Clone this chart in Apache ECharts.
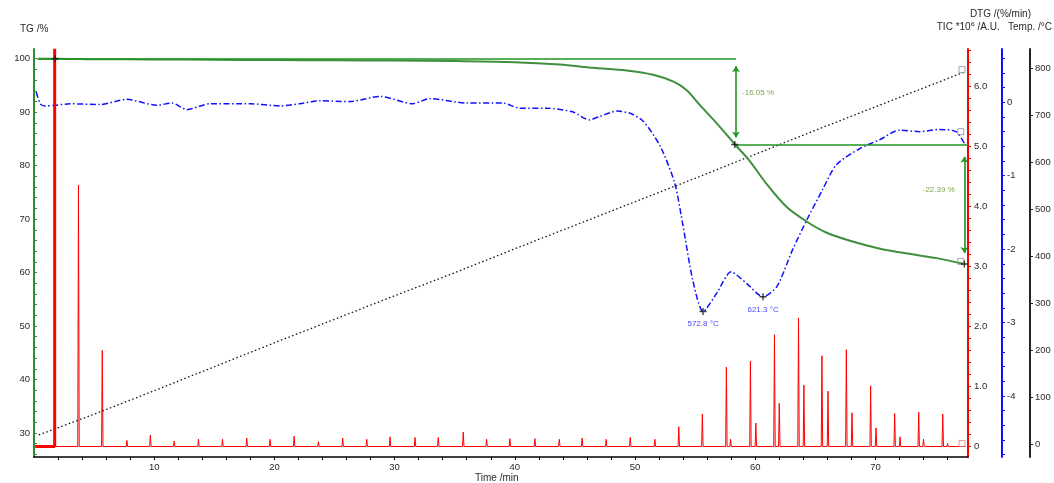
<!DOCTYPE html>
<html>
<head>
<meta charset="utf-8">
<script src="https://cdn.jsdelivr.net/npm/echarts@6/dist/echarts.min.js"></script>
<style>
html,body{margin:0;padding:0;background:#fff;}
#chart{width:1054px;height:483px;}
</style>
</head>
<body>
<div id="chart"></div>
<script>
// ---------- data ----------
// TG curve (mass %)
const tgTime  = [0.3, 2, 5, 10, 15, 20, 25, 30, 35, 40, 43.75, 46.5, 49.3, 51.5, 53.2, 54.3, 55.4, 56.8, 58.3, 59.5, 60.9, 62.6, 64.3, 65.9, 68.1, 70.3, 72.8, 75.1, 77.4];
const tgValue = [100.0, 100.0, 99.9, 99.85, 99.8, 99.75, 99.7, 99.65, 99.55, 99.35, 98.9, 98.3, 97.8, 97.0, 95.7, 94.1, 91.3, 87.9, 84.0, 81.0, 76.7, 72.3, 69.5, 67.5, 65.8, 64.5, 63.5, 62.7, 61.6];

// DTG curve (%/min)
const dtgTime  = [0.19, 0.52, 0.94, 1.77, 3.0, 5.5, 7.7, 10.2, 11.5, 12.7, 14.65, 18.0, 20.5, 22.1, 23.8, 26.3, 28.8, 31.5, 32.9, 36.0, 39.0, 40.4, 42.6, 44.8, 46.2, 47.1, 48.5, 49.6, 50.7, 52.1, 53.3, 54.0, 54.8, 55.66, 56.8, 58.0, 59.3, 60.65, 61.8, 63.1, 64.3, 65.6, 66.75, 68.7, 70.35, 72.0, 73.7, 75.3, 76.7, 77.4];
const dtgValue = [0.14, -0.02, -0.05, -0.04, -0.02, -0.03, 0.04, -0.04, -0.01, -0.10, -0.02, -0.02, -0.05, -0.02, 0.02, 0.01, 0.08, -0.02, 0.05, -0.01, -0.01, -0.08, -0.08, -0.13, -0.24, -0.19, -0.12, -0.15, -0.26, -0.60, -1.10, -1.69, -2.42, -2.85, -2.60, -2.31, -2.47, -2.65, -2.51, -2.01, -1.60, -1.19, -0.85, -0.63, -0.51, -0.38, -0.40, -0.37, -0.40, -0.56];

// Temperature (°C)
const tempTime  = [0.4, 5, 10, 15, 20, 25, 30, 35, 40, 45, 50, 55, 60, 65, 70, 75, 77.3];
const tempValue = [20, 64, 114, 165, 216, 266, 316, 365, 416, 466, 516, 566, 617, 668, 718, 768, 791];

// TIC peaks (*10^6 A.U.)
const ticPeakTime   = [3.70, 5.68, 7.73, 9.68, 11.66, 13.68, 15.68, 17.70, 19.64, 21.64, 23.66, 25.68, 27.68, 29.62, 31.70, 33.63, 35.71, 37.65, 39.59, 41.67, 43.70, 45.60, 47.60, 49.60, 51.65, 53.64, 55.60, 57.60, 57.95, 59.60, 60.05, 61.60, 62.00, 63.60, 64.05, 65.55, 66.05, 67.58, 68.05, 69.60, 70.05, 71.60, 72.05, 73.60, 74.00, 75.60, 76.00];
const ticPeakHeight = [4.35, 1.60, 0.10, 0.19, 0.09, 0.12, 0.12, 0.14, 0.12, 0.17, 0.08, 0.14, 0.12, 0.16, 0.15, 0.15, 0.24, 0.12, 0.13, 0.13, 0.12, 0.14, 0.12, 0.15, 0.12, 0.33, 0.54, 1.32, 0.12, 1.42, 0.39, 1.86, 0.72, 2.14, 1.02, 1.51, 0.92, 1.61, 0.56, 1.01, 0.31, 0.55, 0.16, 0.57, 0.12, 0.54, 0.05];
const ticStartTime = 0.1, ticEndTime = 77.5;
const ticBigPeakTime = 1.72, ticBigPeakHeight = 6.62;

// Annotations
const tgStepLevels = [100, 83.95, 61.56];
const tgStepTimes  = [58.4, 77.4];
const tgStepLabels = ['-16.05 %', '-22.39 %'];
const tgMarkTime  = [1.77, 58.3, 77.4];
const tgMarkValue = [100, 83.95, 61.6];
const dtgPeakTime  = [55.66, 60.65];
const dtgPeakValue = [-2.85, -2.65];
const dtgPeakLabel = ['572.8 °C', '621.3 °C'];

// Axis ticks / labels
const timeLabels = [10, 20, 30, 40, 50, 60, 70];
const timeTicks  = Array.from({length: 38}, (_, i) => (i + 1) * 2);
const tgLabels   = [30, 40, 50, 60, 70, 80, 90, 100];
const tgTicks    = Array.from({length: 38}, (_, i) => 26 + i * 2);
const ticLabels  = [0, 1, 2, 3, 4, 5, 6];
const ticTicks   = Array.from({length: 34}, (_, i) => +(i * 0.2).toFixed(1));
const dtgLabels  = [0, -1, -2, -3, -4];
const dtgTicks   = Array.from({length: 28}, (_, i) => +(0.6 - i * 0.2).toFixed(1));
const tempLabels = [0, 100, 200, 300, 400, 500, 600, 700, 800];

// ---------- build series data ----------
const zip = (a, b) => a.map((v, i) => [v, b[i]]);
const ticData = [[ticStartTime, 0]];
ticPeakTime.forEach((t, i) => {
  ticData.push([t - 0.06, 0], [t, ticPeakHeight[i]], [t + 0.06, 0]);
});
ticData.push([ticEndTime, 0]);

const GREEN = '#2f8f2f', RED = '#ff0000', BLUE = '#1010ff';
const FF = 'Liberation Sans, Arial, sans-serif';
const FONT = {fontFamily: FF, fontSize: 9.5, color: '#2a2a2a'};
const TITLE_FONT = '10px ' + FF;
const plusPath = 'path://M4,0h2v4h4v2h-4v4h-2v-4h-4v-2h4z';

function yAxisBase(o) {
  return Object.assign({type: 'value', splitLine: {show: false}, scale: false}, o);
}
const boxStyle = c => ({color: 'rgba(0,0,0,0)', borderColor: c, borderWidth: 1});

const option = {
  backgroundColor: '#fff',
  animation: false,
  grid: {left: 34, right: 86, top: 49, bottom: 26, containLabel: false},
  xAxis: {
    type: 'value', min: 0, max: 77.7,
    axisLine: {show: true, onZero: false, lineStyle: {color: '#000', width: 1.5}},
    axisTick: {show: true, length: 3, lineStyle: {color: '#000'}, customValues: timeTicks},
    axisLabel: Object.assign({margin: 5, customValues: timeLabels}, FONT),
    splitLine: {show: false}
  },
  yAxis: [
    yAxisBase({ // 0 TG
      position: 'left', min: 25.51, max: 101.81,
      axisLine: {show: true, onZero: false, lineStyle: {color: GREEN, width: 2}},
      axisTick: {show: true, inside: true, length: 3, lineStyle: {color: GREEN}, customValues: tgTicks},
      axisLabel: Object.assign({margin: 4, customValues: tgLabels}, FONT)
    }),
    yAxisBase({ // 1 TIC
      position: 'right', offset: 0, min: -0.175, max: 6.616,
      axisLine: {show: true, onZero: false, lineStyle: {color: RED, width: 2}},
      axisTick: {show: true, length: 3, lineStyle: {color: RED}, customValues: ticTicks},
      axisLabel: Object.assign({margin: 6, customValues: ticLabels,
        formatter: v => v === 0 ? '0' : v.toFixed(1)}, FONT)
    }),
    yAxisBase({ // 2 DTG
      position: 'right', offset: 34, min: -4.832, max: 0.726,
      axisLine: {show: true, onZero: false, lineStyle: {color: BLUE, width: 2}},
      axisTick: {show: true, length: 3, lineStyle: {color: BLUE}, customValues: dtgTicks},
      axisLabel: Object.assign({margin: 5, customValues: dtgLabels}, FONT)
    }),
    yAxisBase({ // 3 Temp
      position: 'right', offset: 62, min: -27, max: 841,
      axisLine: {show: true, onZero: false, lineStyle: {color: '#222', width: 2}},
      axisTick: {show: true, length: 3, lineStyle: {color: '#222'}, customValues: tempLabels},
      axisLabel: Object.assign({margin: 5, customValues: tempLabels}, FONT)
    })
  ],
  graphic: [
    {type: 'text', left: 20, top: 24, style: {text: 'TG /%', font: TITLE_FONT, fill: '#2a2a2a'}},
    {type: 'text', right: 23, top: 9, style: {text: 'DTG /(%/min)', font: TITLE_FONT, fill: '#2a2a2a'}},
    {type: 'text', right: 2, top: 22, style: {
      text: '{a|TIC *10}{s|\u2076}{a| /A.U.   Temp. /°C}',
      rich: {
        a: {fontFamily: FF, fontSize: 10, fill: '#2a2a2a'},
        s: {fontFamily: 'DejaVu Sans', fontSize: 10, fill: '#2a2a2a'}
      }
    }},
    {type: 'text', left: 475, top: 473, style: {text: 'Time /min', font: TITLE_FONT, fill: '#2a2a2a'}}
  ],
  series: [
    { // TIC
      name: 'TIC', type: 'line', yAxisIndex: 1, data: ticData, symbol: 'none',
      lineStyle: {color: RED, width: 1}, z: 2
    },
    { // TIC saturated first peak
      name: 'TIC big', type: 'line', yAxisIndex: 1,
      data: [[ticStartTime, 0], [ticBigPeakTime, 0], [ticBigPeakTime, ticBigPeakHeight]],
      symbol: 'none', lineStyle: {color: RED, width: 3}, z: 4
    },
    { // Temperature
      name: 'Temp', type: 'line', yAxisIndex: 3, data: zip(tempTime, tempValue), symbol: 'none',
      lineStyle: {color: '#111', width: 1.3, type: [1.5, 2.5]}, z: 3
    },
    { // DTG
      name: 'DTG', type: 'line', yAxisIndex: 2, data: zip(dtgTime, dtgValue), symbol: 'none', smooth: 0.25,
      lineStyle: {color: BLUE, width: 1.5, type: [6, 2.5, 1.5, 2.5]}, z: 3
    },
    { // TG
      name: 'TG', type: 'line', yAxisIndex: 0, data: zip(tgTime, tgValue), symbol: 'none', smooth: 0.3,
      lineStyle: {color: '#3f8f3f', width: 2}, z: 3,
      markLine: {
        silent: true, animation: false, symbolSize: 6,
        label: {show: false},
        lineStyle: {color: '#1f941f', width: 1.6, type: 'solid'},
        data: [
          [{coord: [tgTime[0], tgStepLevels[0]], symbol: 'none'}, {coord: [tgStepTimes[0], tgStepLevels[0]], symbol: 'none'}],
          [{coord: [tgStepTimes[0], tgStepLevels[0] - 1.4], symbol: 'arrow'}, {coord: [tgStepTimes[0], tgStepLevels[1] + 1.3], symbol: 'arrow'}],
          [{coord: [tgMarkTime[1], tgStepLevels[1]], symbol: 'none'}, {coord: [77.7, tgStepLevels[1]], symbol: 'none'}],
          [{coord: [tgStepTimes[1], tgStepLevels[1] - 2.3], symbol: 'arrow'}, {coord: [tgStepTimes[1], tgStepLevels[2] + 2.1], symbol: 'arrow'}]
        ]
      }
    },
    { // TG step labels
      type: 'scatter', yAxisIndex: 0, symbolSize: 0, silent: true, z: 6,
      data: [
        {value: [58.9, 93.64], label: {show: true, position: 'right', distance: 0, formatter: tgStepLabels[0]}},
        {value: [76.6, 75.44], label: {show: true, position: 'left', distance: 0, formatter: tgStepLabels[1]}}
      ],
      label: {color: '#5a8f25', fontSize: 8, fontFamily: FF}
    },
    { // TG markers
      type: 'scatter', yAxisIndex: 0, symbol: plusPath, symbolSize: 7, silent: true, z: 7,
      itemStyle: {color: '#111'}, data: zip(tgMarkTime, tgMarkValue)
    },
    { // DTG peak markers
      type: 'scatter', yAxisIndex: 2, symbol: plusPath, symbolSize: 7, silent: true, z: 7,
      itemStyle: {color: '#111'},
      data: dtgPeakTime.map((t, i) => ({value: [t, dtgPeakValue[i]],
        label: {show: true, position: 'bottom', distance: 5, formatter: dtgPeakLabel[i]}})),
      label: {color: BLUE, fontSize: 8, fontFamily: FF}
    },
    { // end boxes
      type: 'scatter', yAxisIndex: 0, symbol: 'rect', symbolSize: 6, silent: true, z: 6,
      itemStyle: boxStyle('#7f8fa8'), data: [[77.1, tgValue[tgValue.length - 1] + 0.5]]
    },
    {
      type: 'scatter', yAxisIndex: 3, symbol: 'rect', symbolSize: 6, silent: true, z: 6,
      itemStyle: boxStyle('#7f8fa8'), data: [[77.2, tempValue[tempValue.length - 1] + 6]]
    },
    {
      type: 'scatter', yAxisIndex: 2, symbol: 'rect', symbolSize: 6, silent: true, z: 6,
      itemStyle: boxStyle('#7f8fa8'), data: [[77.1, -0.4]]
    },
    {
      type: 'scatter', yAxisIndex: 1, symbol: 'rect', symbolSize: 6, silent: true, z: 6,
      itemStyle: boxStyle('#e08080'), data: [[77.2, 0.05]]
    }
  ]
};

const chart = echarts.init(document.getElementById('chart'), null, {renderer: 'canvas'});
chart.setOption(option);
</script>
</body>
</html>
